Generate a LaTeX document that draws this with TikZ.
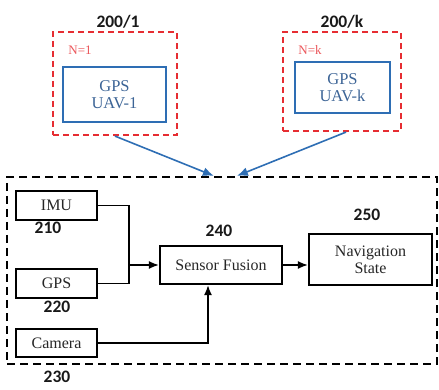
\documentclass[tikz,border=0pt]{standalone}
\usepackage{fontspec}
\setmainfont{Liberation Serif}
\newfontfamily\lblfont{Carlito}
\usetikzlibrary{arrows.meta,calc}
\definecolor{myred}{RGB}{230,45,50}
\definecolor{myblue}{RGB}{46,110,180}
\definecolor{txtblue}{RGB}{60,100,150}
\tikzset{
  bluebox/.style={draw=myblue,line width=2.2pt,align=center,text=txtblue,font=\fontsize{16.5}{19}\selectfont},
  blkbox/.style={draw=black,line width=2.2pt,align=center,text=black!85,font=\fontsize{16}{18}\selectfont},
  redbox/.style={draw=myred,line width=2.2pt,dash pattern=on 6pt off 4pt,inner sep=0pt},
  numlbl/.style={font=\lblfont\bfseries\fontsize{17.5}{19}\selectfont,text=black!90},
  conn/.style={line width=1.6pt,-{Latex[length=10pt,width=8pt]}},
  bconn/.style={draw=myblue,line width=1.6pt,-{Latex[length=11pt,width=9pt]}},
}
\begin{document}
\begin{tikzpicture}[x=1pt,y=-1pt]
\useasboundingbox (0,0) rectangle (439,390);
% top units
\node[redbox,minimum width=124pt,minimum height=103pt] (r1) at (115,83.5) {};
\node[bluebox,minimum width=103pt,minimum height=55pt,inner sep=0pt] (b1) at (114.5,94.5) {GPS\\[-2pt]UAV-1};
\node[text=myred!80,font=\fontsize{13}{15}\selectfont] (n1) at (80,50) {N=1};
\node[numlbl] (l1) at (118,22) {200/1};

\node[redbox,minimum width=118pt,minimum height=99pt] (r2) at (342,81.5) {};
\node[bluebox,minimum width=95pt,minimum height=51pt,inner sep=0pt] (b2) at (342.5,87.5) {GPS\\[-2pt]UAV-k};
\node[text=myred!80,font=\fontsize{13}{15}\selectfont] (n2) at (310,50) {N=k};
\node[numlbl] (l2) at (342,22) {200/k};

% outer dashed box
\node[draw=black,line width=2.2pt,dash pattern=on 8pt off 5pt,minimum width=430pt,minimum height=187pt,inner sep=0pt] (outer) at (222,270.5) {};
\coordinate (t1) at ($(outer.north west)+(208,0)$);
\coordinate (t2) at ($(outer.north west)+(231,0)$);
\draw[bconn] (r1.south) -- (t1);
\draw[bconn] ($(r2.south)+(4,0)$) -- (t2);

% inner boxes
\node[blkbox,minimum width=81pt,minimum height=29pt,inner sep=0pt] (imu) at (56.5,205.5) {IMU};
\node[blkbox,minimum width=81pt,minimum height=29pt,inner sep=0pt] (gps) at (56.5,283.5) {GPS};
\node[blkbox,minimum width=81pt,minimum height=28pt,inner sep=0pt] (cam) at (56.5,343) {Camera};
\node[blkbox,minimum width=122pt,minimum height=38pt,inner sep=0pt] (sf) at (221,265) {Sensor Fusion};
\node[blkbox,minimum width=123pt,minimum height=51pt,inner sep=0pt] (nav) at (370.5,259.5) {Navigation\\[-1pt]State};

\node[numlbl] (l210) at (48,228) {210};
\node[numlbl] (l220) at (57,307) {220};
\node[numlbl] (l230) at (57,377) {230};
\node[numlbl] (l240) at (219,231) {240};
\node[numlbl] (l250) at (367,215) {250};

% connectors
\coordinate (j) at ($(imu.east)+(31,0)$);
\draw[line width=1.6pt] (imu.east) -- (j) |- (gps.east);
\draw[conn] (j |- sf.west) -- (sf.west);
\draw[conn] (cam.east) -| ($(sf.south)+(-13,0)$);
\draw[conn] (sf.east) -- (nav.west |- sf.east);
\end{tikzpicture}
\end{document}
